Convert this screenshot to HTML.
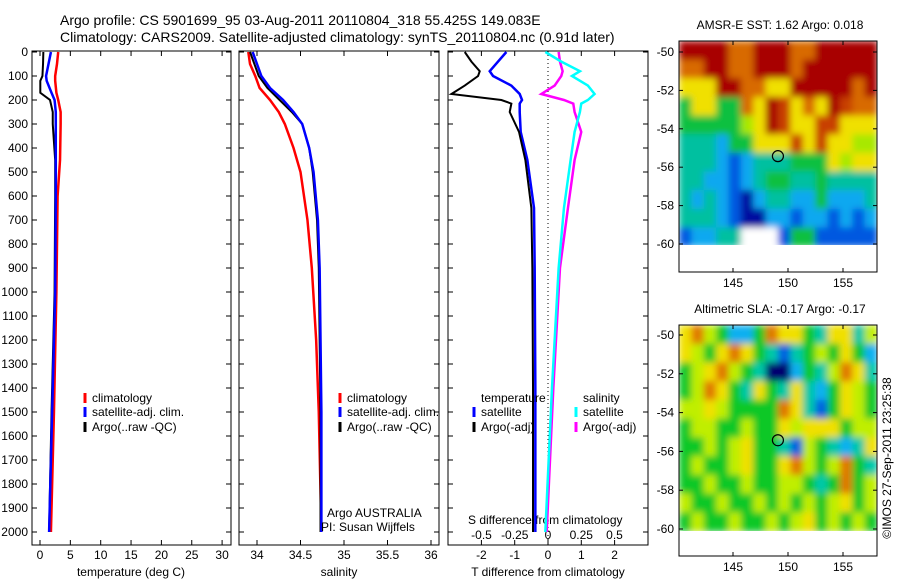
<!DOCTYPE html>
<html><head><meta charset="utf-8"><style>
body{margin:0;background:#fff;}
svg{display:block;font-family:"Liberation Sans",sans-serif;}
text{font-size:12px;fill:#000;}
</style></head><body>
<svg id="c" width="900" height="580" viewBox="0 0 900 580" xmlns="http://www.w3.org/2000/svg">
<defs>
<filter id="blur" x="0" y="0" width="1" height="1"><feGaussianBlur stdDeviation="3.5" edgeMode="duplicate"/></filter>
<clipPath id="clip1"><rect x="679" y="41" width="198" height="204"/></clipPath>
<clipPath id="clip2"><rect x="679" y="325" width="198" height="206"/></clipPath>
</defs>
<text x="60" y="25" style="font-size:14px">Argo profile: CS 5901699_95 03-Aug-2011 20110804_318 55.425S 149.083E</text>
<text x="60" y="42" style="font-size:14px">Climatology: CARS2009. Satellite-adjusted climatology: synTS_20110804.nc (0.91d later)</text>
<g id="g"></g>
</svg>
<script>
const depthTicks=[0,100,200,300,400,500,600,700,800,900,1000,1100,1200,1300,1400,1500,1600,1700,1800,1900,2000];
const tTicks=[0,5,10,15,20,25,30];
const sTicks=[34,34.5,35,35.5,36];
const dTicks=[-2,-1,0,1,2];
const dsTicks=[-0.5,-0.25,0,0.25,0.5];
const dsLabels=["-0.5","-0.25","0","0.25","0.5"];
// profiles
const depthT=[0,50,100,120,170,200,250,300,450,600,1000,1500,2000];
const tempClim=[3.0,2.8,2.5,2.5,2.7,3.0,3.4,3.4,3.3,2.9,2.7,2.3,1.8];
const tempSat=[1.8,1.4,1.0,1.1,1.9,2.4,2.6,2.6,2.6,2.6,2.5,2.0,1.5];
const tempArgo=[0.55,0.5,0.4,0.05,0.05,1.65,2.1,2.1,2.5,2.5,2.4,1.9,1.5];
const depthS=[0,50,100,150,200,250,300,400,500,700,900,1200,1500,2000];
const salClim=[33.9,33.92,33.98,34.03,34.15,34.25,34.32,34.42,34.5,34.58,34.63,34.68,34.71,34.74];
const salSat=[33.95,34.0,34.05,34.15,34.3,34.42,34.52,34.6,34.65,34.7,34.72,34.73,34.74,34.74];
const salArgo=[33.92,33.97,34.02,34.12,34.26,34.4,34.52,34.6,34.64,34.69,34.71,34.72,34.73,34.73];
const depthD=[0,40,80,100,140,175,200,215,250,333,450,650,900,1400,2000];
const dTSat=[-1.25,-1.5,-1.75,-1.65,-1.1,-0.85,-0.78,-0.85,-0.85,-0.82,-0.62,-0.42,-0.4,-0.38,-0.38];
const dTArgo=[-2.5,-2.3,-2.05,-2.1,-2.5,-2.9,-1.4,-1.1,-1.15,-0.87,-0.68,-0.5,-0.47,-0.45,-0.45];
const dSArgo=[0.08,0.09,0.11,0.1,0.05,-0.05,0.12,0.19,0.2,0.25,0.2,0.15,0.09,0.04,-0.01];
const dSSat=[-0.02,0.1,0.24,0.18,0.3,0.35,0.3,0.25,0.24,0.2,0.17,0.12,0.08,0.03,-0.02];
// maps: colour-code grids (rows north->south)
const sstGrid=["RRRROORRROORRRRR","OORROORRRORRRRRR","YYYRROOYYRRRRROR","GYYGGOYRXYOYRXOO","GGGGGLYRXYYXXYYY","TTTCGGYYYXYXYYLL","TTTCBCTTTGGGYLYY","TTCCBCTGGTTGTTTT","TCTCBNCTTCCGCCCT","TTTCBNNCCBCCBCBC","BCCTTWWWBGGBBBBB"];
const slaGrid=["YOLGCCGOYYGTYYTL","YLGYOYGTBTGLGYGC","GLYOLGTNNCGTLOYT","GLOYGTYGTYTCGYLG","LLYLGGGGOYTBGYLG","GLLGGLGGYLYYYGLL","GGLGLYGGTBLGTCTY","GLGGLYGGYOLGLOGT","GGLGGLGGLLGTGOGL","LGGLGGLGLGLGLYGL","GLGGLGGLGLYGLGLG"];
const sstCols={R:"#a80000",O:"#d86a00",X:"#c84000",Y:"#f0e000",L:"#a8e800",G:"#10c040",T:"#00c0a0",C:"#10a8f0",B:"#0058e0",N:"#0010a0",W:"#ffffff"};
const slaCols={O:"#e07800",Y:"#f0e000",L:"#c0ee00",G:"#10c828",T:"#00c8a8",C:"#10b0f0",B:"#0060e0",N:"#000070"};
const argoLon=149.083, argoLat=-55.425;
const lonTicks=[145,150,155];
const latTicks=[-50,-52,-54,-56,-58,-60];

const NS="http://www.w3.org/2000/svg";
const g=document.getElementById('g');
function el(t,a,p){const e=document.createElementNS(NS,t);for(const k in a)e.setAttribute(k,a[k]);(p||g).appendChild(e);return e;}
const y=d=>52+d*0.24;
const xT=v=>40+v*6.07, xS=v=>257+(v-34)*87, xD=v=>548+v*33.3, xDS=v=>548+v*133;
const TOP=51,BOT=545;
function frame(x0,x1,name){
  const r=el('rect',{x:x0,y:TOP,width:x1-x0,height:BOT-TOP,fill:'none',stroke:'#000','stroke-width':1});
  
  
  depthTicks.forEach(d=>{el('line',{x1:x0,x2:x0+5,y1:y(d),y2:y(d),stroke:'#000'});el('line',{x1:x1,x2:x1-5,y1:y(d),y2:y(d),stroke:'#000'});});
}
frame(32,231,'temperature-panel');frame(239,439,'salinity-panel');frame(448,648,'difference-panel');
depthTicks.forEach(d=>{const t=el('text',{x:28,y:y(d)+4,'text-anchor':'end'});t.textContent=d;

});
function xticks(arr,fx,ylab){arr.forEach(v=>{const x=fx(v);
 el('line',{x1:x,x2:x,y1:BOT,y2:BOT-5,stroke:'#000'});el('line',{x1:x,x2:x,y1:TOP,y2:TOP+5,stroke:'#000'});
 const t=el('text',{x:x,y:ylab,'text-anchor':'middle'});t.textContent=v;
 
 });}
xticks(tTicks,xT,559);xticks(sTicks,xS,559);xticks(dTicks,xD,559);
dsTicks.forEach((v,i)=>{const t=el('text',{x:xDS(v),y:539,'text-anchor':'middle'});t.textContent=dsLabels[i];

});
function lbl(x,yy,s,name,anchor){const t=el('text',{x:x,y:yy,'text-anchor':anchor||'start'});t.textContent=s;

return t;}
lbl(131,576,'temperature (deg C)','x-axis-title-temperature','middle');
lbl(339,576,'salinity','x-axis-title-salinity','middle');
lbl(548,576,'T difference from climatology','x-axis-title-t-diff','middle');
lbl(468,524,'S difference from climatology','s-diff-axis-title');
el('line',{x1:xD(0),x2:xD(0),y1:TOP,y2:BOT,stroke:'#000','stroke-dasharray':'1,3'});
function line(ds,vs,fx,col,name,w){const p=el('polyline',{points:ds.map((d,i)=>fx(vs[i])+','+y(d)).join(' '),fill:'none',stroke:col,'stroke-width':w||2.5});

}
line(depthT,tempClim,xT,'#f00','temp-climatology-line');line(depthT,tempArgo,xT,'#000','temp-argo-line',2);line(depthT,tempSat,xT,'#00f','temp-satellite-line');
line(depthS,salClim,xS,'#f00','sal-climatology-line');line(depthS,salArgo,xS,'#000','sal-argo-line',2);line(depthS,salSat,xS,'#00f','sal-satellite-line');
line(depthD,dTSat,xD,'#00f','tdiff-satellite-line');line(depthD,dTArgo,xD,'#000','tdiff-argo-line',2);
line(depthD,dSArgo,xDS,'#f0f','sdiff-argo-line');line(depthD,dSSat,xDS,'#0ff','sdiff-satellite-line');
function leg(x,yy,col,s,name){el('line',{x1:x,x2:x,y1:yy-9,y2:yy+1,stroke:col,'stroke-width':3});lbl(x+7,yy,s,name);}
[[85,'climatology','#f00',402],[85,'satellite-adj. clim.','#00f',416],[85,'Argo(..raw -QC)','#000',431]].forEach(a=>leg(a[0],a[3],a[2],a[1],'legend-entry'));
[[340,'climatology','#f00',402],[340,'satellite-adj. clim.','#00f',416],[340,'Argo(..raw -QC)','#000',431]].forEach(a=>leg(a[0],a[3],a[2],a[1],'legend-entry'));
lbl(481,402,'temperature','legend-header-temperature');lbl(583,402,'salinity','legend-header-salinity');
leg(474,416,'#00f','satellite','legend-entry');leg(474,431,'#000','Argo(-adj)','legend-entry');
leg(576,416,'#0ff','satellite','legend-entry');leg(576,431,'#f0f','Argo(-adj)','legend-entry');
lbl(327,517,'Argo AUSTRALIA','argo-australia-label');lbl(321,531,'PI: Susan Wijffels','pi-label');

function map(grid,cols,top,bottom,lat50y,lat60y,name,title,labY,clip){
  const x0=679,x1=877,dataBot=lat60y+2;
  const rows=grid.length,nc=grid[0].length,cw=(x1-x0)/nc,rh=(dataBot-top)/rows;
  const grp=el('g',{});
  const cg=el('g',{'clip-path':'url(#'+clip+')'},grp);
  const cells=el('g',{filter:'url(#blur)'},cg);
  grid.forEach((r,i)=>{[...r].forEach((c,j)=>{el('rect',{x:x0+j*cw,y:top+i*rh,width:cw+0.6,height:rh+0.6,fill:cols[c]},cells);});});
  el('rect',{x:x0,y:top,width:x1-x0,height:bottom-top,fill:'none',stroke:'#000'},grp);
  const ly=v=>lat50y+(-50-v)/10*(lat60y-lat50y), lx=v=>733+(v-145)*11;
  latTicks.forEach(v=>{el('line',{x1:x0,x2:x0+4,y1:ly(v),y2:ly(v),stroke:'#000'});el('line',{x1:x1,x2:x1-4,y1:ly(v),y2:ly(v),stroke:'#000'});
   lbl(674,ly(v)+4,v,'lat-tick-label','end');});
  lonTicks.forEach(v=>{el('line',{x1:lx(v),x2:lx(v),y1:bottom,y2:bottom-4,stroke:'#000'});el('line',{x1:lx(v),x2:lx(v),y1:top,y2:top+4,stroke:'#000'});
   lbl(lx(v),labY,v,'lon-tick-label','middle');});
  el('circle',{cx:lx(argoLon),cy:ly(argoLat),r:5.5,fill:'none',stroke:'#000','stroke-width':1.2});
  lbl(780,top-12,title,'map-title','middle');
}
map(sstGrid,sstCols,41,272,52,244,'sst-map','AMSR-E SST: 1.62 Argo: 0.018',287,'clip1');
map(slaGrid,slaCols,325,556,335,529,'sla-map','Altimetric SLA: -0.17 Argo: -0.17',571,'clip2');
const w=lbl(0,0,'©IMOS 27-Sep-2011 23:25:38','imos-timestamp','middle');w.setAttribute('transform','translate(891,458) rotate(-90)');
</script>
</body></html>
